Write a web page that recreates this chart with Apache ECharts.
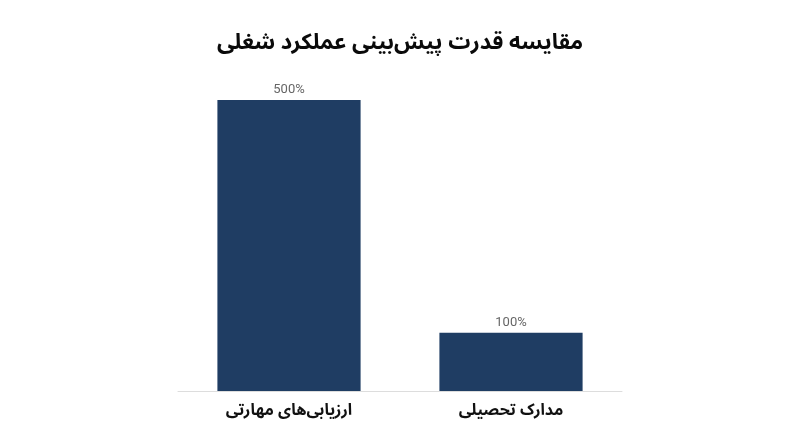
<!DOCTYPE html>
<html><head><meta charset="utf-8">
<script src="https://cdn.jsdelivr.net/npm/echarts@6/dist/echarts.min.js"></script>
<style>html,body{margin:0;padding:0;background:#fff}#c{width:800px;height:447px}</style>
</head><body><div id="c"></div>
<script>
const title = 'مقایسه قدرت پیش‌بینی عملکرد شغلی';
const categories = ['ارزیابی‌های مهارتی', 'مدارک تحصیلی'];
const values = [500, 100];

const FONT = '"Noto Sans Arabic", "Noto Naskh Arabic", "Noto Kufi Arabic", Vazirmatn, "DejaVu Sans", sans-serif';
const chart = echarts.init(document.getElementById('c'));
chart.setOption({
  animation: false,
  backgroundColor: '#fff',
  title: {
    text: title, left: 'center', top: 30,
    textStyle: { fontSize: 22, fontWeight: 'bold', color: '#0a0a0a', fontFamily: FONT }
  },
  grid: { left: 178, right: 178, top: 100, bottom: 56 },
  xAxis: {
    type: 'category', data: categories,
    axisLine: { lineStyle: { color: '#dddddd' } },
    axisTick: { show: false },
    axisLabel: { interval: 0, fontSize: 16, fontWeight: 'bold', color: '#111', margin: 14, fontFamily: FONT }
  },
  yAxis: { type: 'value', min: 0, max: 500, show: false, splitLine: { show: false } },
  series: [{
    type: 'bar', data: values, barWidth: '64.5%',
    itemStyle: { color: '#1f3d63' },
    label: { show: true, position: 'top', formatter: '{c}%', color: '#666', fontSize: 13, distance: 4, fontFamily: 'Roboto, sans-serif' }
  }]
});
</script></body></html>
